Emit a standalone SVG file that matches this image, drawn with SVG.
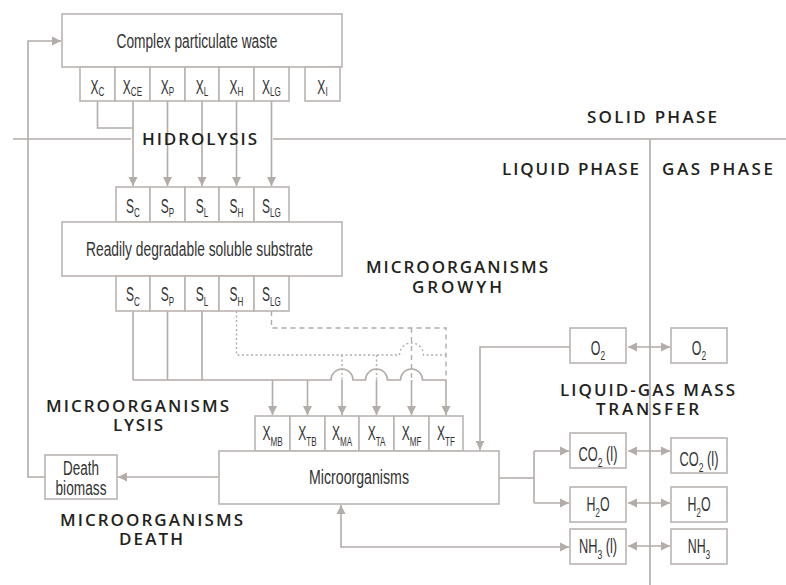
<svg xmlns="http://www.w3.org/2000/svg" width="786" height="585" viewBox="0 0 786 585">
<style>
.bx{fill:#fff;stroke:#bbb5b1;stroke-width:1.6}
.ln{fill:none;stroke:#b3aca8;stroke-width:1.6}
.dot{fill:none;stroke:#b3aca8;stroke-width:1.4;stroke-dasharray:2 2.5}
.dsh{fill:none;stroke:#b3aca8;stroke-width:1.4;stroke-dasharray:5 4}
.t{font-family:"Liberation Sans","Arial",sans-serif;font-size:20px;fill:#333;text-anchor:middle}
.s{font-size:13.5px}
.lb{font-family:"Open Sans","Liberation Sans",sans-serif;font-weight:600;font-size:17px;fill:#231f20;text-anchor:middle}
</style>
<defs>
<marker id="ah" markerUnits="userSpaceOnUse" markerWidth="10" markerHeight="10" refX="9" refY="4.5" orient="auto-start-reverse" viewBox="0 0 10 9">
<path d="M0,0 L9,4.5 L0,9 z" fill="#b3aca8"/>
</marker>
</defs>
<rect width="786" height="585" fill="#fff"/>

<g id="phase-lines">
<path class="ln" d="M13,139 H131 M273,139 H786 M650,139 V585"/>
</g>

<g id="connectors">
<path class="ln" d="M97.5,101 V128 H133"/>
<path class="ln" d="M133,101 V186" marker-end="url(#ah)"/>
<path class="ln" d="M167.5,101 V186" marker-end="url(#ah)"/>
<path class="ln" d="M202,101 V186" marker-end="url(#ah)"/>
<path class="ln" d="M236.5,101 V186" marker-end="url(#ah)"/>
<path class="ln" d="M271.5,101 V186" marker-end="url(#ah)"/>
<path class="ln" d="M133,311 V380 M167.5,311 V380 M202,311 V380"/>
<path class="ln" d="M133,380 H331 A11,11 0 0 1 353,380 H365.5 A11,11 0 0 1 387.5,380 H400.5 A11,11 0 0 1 422.5,380 H446"/>
<path class="dot" d="M236.5,311 V355 H399.5 A12,12 0 0 1 423.5,355 H446"/>
<path class="dot" d="M342,355 V380 M376.5,355 V380"/>
<path class="dsh" d="M271.5,311 V328 H446 V380 M411.5,328 V380"/>
<path class="ln" d="M272.5,380 V415" marker-end="url(#ah)"/>
<path class="ln" d="M307.5,380 V415" marker-end="url(#ah)"/>
<path class="ln" d="M342,380 V415" marker-end="url(#ah)"/>
<path class="ln" d="M376.5,380 V415" marker-end="url(#ah)"/>
<path class="ln" d="M411.5,380 V415" marker-end="url(#ah)"/>
<path class="ln" d="M446,380 V415" marker-end="url(#ah)"/>
<path class="ln" d="M570,347 H480 V450" marker-end="url(#ah)"/>
<path class="ln" d="M628,347 H670" marker-start="url(#ah)" marker-end="url(#ah)"/>
<path class="ln" d="M499,478 H534 M534,451 V503"/>
<path class="ln" d="M534,451 H569" marker-end="url(#ah)"/>
<path class="ln" d="M534,503 H569" marker-end="url(#ah)"/>
<path class="ln" d="M628,451 H670" marker-start="url(#ah)" marker-end="url(#ah)"/>
<path class="ln" d="M628,503 H670" marker-start="url(#ah)" marker-end="url(#ah)"/>
<path class="ln" d="M628,546 H670" marker-start="url(#ah)" marker-end="url(#ah)"/>
<path class="ln" d="M341,505 V547 H569" marker-start="url(#ah)" marker-end="url(#ah)"/>
<path class="ln" d="M219,477 H118" marker-end="url(#ah)"/>
<path class="ln" d="M45,477 H28 V41 H61" marker-end="url(#ah)"/>
</g>

<g id="complex-waste">
<rect class="bx" x="62" y="14" width="280" height="53"/>
<text class="t" x="197" y="48" textLength="161" lengthAdjust="spacingAndGlyphs">Complex particulate waste</text>
</g>
<g id="x-particulates">
<rect class="bx" x="80" y="67" width="35" height="34"/>
<rect class="bx" x="115" y="67" width="35" height="34"/>
<rect class="bx" x="150" y="67" width="35" height="34"/>
<rect class="bx" x="185" y="67" width="34" height="34"/>
<rect class="bx" x="219" y="67" width="35" height="34"/>
<rect class="bx" x="254" y="67" width="35" height="34"/>
<rect class="bx" x="305" y="67" width="35" height="34"/>
<text class="t" transform="translate(97.5,94) scale(0.6,1)">X<tspan class="s" dy="2">C</tspan></text>
<text class="t" transform="translate(132.5,94) scale(0.6,1)">X<tspan class="s" dy="2">CE</tspan></text>
<text class="t" transform="translate(167.5,94) scale(0.6,1)">X<tspan class="s" dy="2">P</tspan></text>
<text class="t" transform="translate(202,94) scale(0.6,1)">X<tspan class="s" dy="2">L</tspan></text>
<text class="t" transform="translate(236.5,94) scale(0.6,1)">X<tspan class="s" dy="2">H</tspan></text>
<text class="t" transform="translate(271.5,94) scale(0.6,1)">X<tspan class="s" dy="2">LG</tspan></text>
<text class="t" transform="translate(322.5,94) scale(0.6,1)">X<tspan class="s" dy="2">I</tspan></text>
</g>

<g id="s-top">
<rect class="bx" x="116" y="187" width="34" height="35"/>
<rect class="bx" x="150" y="187" width="35" height="35"/>
<rect class="bx" x="185" y="187" width="34" height="35"/>
<rect class="bx" x="219" y="187" width="35" height="35"/>
<rect class="bx" x="254" y="187" width="35" height="35"/>
<text class="t" transform="translate(133,213) scale(0.6,1)">S<tspan class="s" dy="4">C</tspan></text>
<text class="t" transform="translate(167.5,213) scale(0.6,1)">S<tspan class="s" dy="4">P</tspan></text>
<text class="t" transform="translate(202,213) scale(0.6,1)">S<tspan class="s" dy="4">L</tspan></text>
<text class="t" transform="translate(236.5,213) scale(0.6,1)">S<tspan class="s" dy="4">H</tspan></text>
<text class="t" transform="translate(271.5,213) scale(0.6,1)">S<tspan class="s" dy="4">LG</tspan></text>
</g>
<g id="soluble-substrate">
<rect class="bx" x="62" y="222" width="280" height="54"/>
<text class="t" x="199.5" y="256" textLength="227" lengthAdjust="spacingAndGlyphs">Readily degradable soluble substrate</text>
</g>
<g id="s-bottom">
<rect class="bx" x="116" y="276" width="34" height="35"/>
<rect class="bx" x="150" y="276" width="35" height="35"/>
<rect class="bx" x="185" y="276" width="34" height="35"/>
<rect class="bx" x="219" y="276" width="35" height="35"/>
<rect class="bx" x="254" y="276" width="35" height="35"/>
<text class="t" transform="translate(133,301) scale(0.6,1)">S<tspan class="s" dy="5">C</tspan></text>
<text class="t" transform="translate(167.5,301) scale(0.6,1)">S<tspan class="s" dy="5">P</tspan></text>
<text class="t" transform="translate(202,301) scale(0.6,1)">S<tspan class="s" dy="5">L</tspan></text>
<text class="t" transform="translate(236.5,301) scale(0.6,1)">S<tspan class="s" dy="5">H</tspan></text>
<text class="t" transform="translate(271.5,301) scale(0.6,1)">S<tspan class="s" dy="5">LG</tspan></text>
</g>

<g id="x-biomass">
<rect class="bx" x="255" y="416" width="35" height="35"/>
<rect class="bx" x="290" y="416" width="35" height="35"/>
<rect class="bx" x="325" y="416" width="34" height="35"/>
<rect class="bx" x="359" y="416" width="35" height="35"/>
<rect class="bx" x="394" y="416" width="35" height="35"/>
<rect class="bx" x="429" y="416" width="34" height="35"/>
<text class="t" transform="translate(272.5,440) scale(0.6,1)">X<tspan class="s" dy="6">MB</tspan></text>
<text class="t" transform="translate(307.5,440) scale(0.6,1)">X<tspan class="s" dy="6">TB</tspan></text>
<text class="t" transform="translate(342,440) scale(0.6,1)">X<tspan class="s" dy="6">MA</tspan></text>
<text class="t" transform="translate(376.5,440) scale(0.6,1)">X<tspan class="s" dy="6">TA</tspan></text>
<text class="t" transform="translate(411.5,440) scale(0.6,1)">X<tspan class="s" dy="6">MF</tspan></text>
<text class="t" transform="translate(446,440) scale(0.6,1)">X<tspan class="s" dy="6">TF</tspan></text>
</g>
<g id="microorganisms">
<rect class="bx" x="219" y="451" width="280" height="53"/>
<text class="t" x="359" y="484" textLength="100" lengthAdjust="spacingAndGlyphs">Microorganisms</text>
</g>
<g id="death-biomass">
<rect class="bx" x="45" y="455" width="72" height="44"/>
<text class="t" x="81" y="475" textLength="36" lengthAdjust="spacingAndGlyphs">Death</text>
<text class="t" x="81" y="495" textLength="51" lengthAdjust="spacingAndGlyphs">biomass</text>
</g>

<g id="o2-liquid"><rect class="bx" x="570" y="328" width="56" height="35"/><text class="t" transform="translate(598,355) scale(0.62,1)">O<tspan class="s" dy="5">2</tspan></text></g>
<g id="o2-gas"><rect class="bx" x="671" y="328" width="56" height="35"/><text class="t" transform="translate(699,355) scale(0.62,1)">O<tspan class="s" dy="5">2</tspan></text></g>
<g id="co2-liquid"><rect class="bx" x="570" y="433" width="56" height="35"/><text class="t" transform="translate(598,461) scale(0.64,1)">CO<tspan class="s" dy="6">2</tspan><tspan dy="-6"> (l)</tspan></text></g>
<g id="co2-gas"><rect class="bx" x="671" y="438" width="56" height="35"/><text class="t" transform="translate(699,466) scale(0.64,1)">CO<tspan class="s" dy="6">2</tspan><tspan dy="-6"> (l)</tspan></text></g>
<g id="h2o-liquid"><rect class="bx" x="570" y="487" width="56" height="35"/><text class="t" transform="translate(598,511) scale(0.62,1)">H<tspan class="s" dy="6">2</tspan><tspan dy="-6">O</tspan></text></g>
<g id="h2o-gas"><rect class="bx" x="671" y="487" width="56" height="35"/><text class="t" transform="translate(699,511) scale(0.62,1)">H<tspan class="s" dy="6">2</tspan><tspan dy="-6">O</tspan></text></g>
<g id="nh3-liquid"><rect class="bx" x="570" y="529" width="56" height="35"/><text class="t" transform="translate(598,553) scale(0.64,1)">NH<tspan class="s" dy="6">3</tspan><tspan dy="-6"> (l)</tspan></text></g>
<g id="nh3-gas"><rect class="bx" x="671" y="529" width="56" height="35"/><text class="t" transform="translate(699,553) scale(0.62,1)">NH<tspan class="s" dy="6">3</tspan></text></g>

<g id="labels">
<text class="lb" x="199.5" y="145" textLength="115" lengthAdjust="spacing">HIDROLYSIS</text>
<text class="lb" x="652" y="123" textLength="130" lengthAdjust="spacing">SOLID PHASE</text>
<text class="lb" x="570.5" y="175" textLength="137" lengthAdjust="spacing">LIQUID PHASE</text>
<text class="lb" x="717.5" y="175" textLength="111" lengthAdjust="spacing">GAS PHASE</text>
<text class="lb" x="457" y="273" textLength="182" lengthAdjust="spacing">MICROORGANISMS</text>
<text class="lb" x="457" y="293" textLength="90" lengthAdjust="spacing">GROWYH</text>
<text class="lb" x="137.5" y="412" textLength="183" lengthAdjust="spacing">MICROORGANISMS</text>
<text class="lb" x="138" y="431" textLength="50" lengthAdjust="spacing">LYSIS</text>
<text class="lb" x="151.5" y="526" textLength="183" lengthAdjust="spacing">MICROORGANISMS</text>
<text class="lb" x="151" y="545" textLength="64" lengthAdjust="spacing">DEATH</text>
<text class="lb" x="647.5" y="396" textLength="175" lengthAdjust="spacing">LIQUID-GAS MASS</text>
<text class="lb" x="647.5" y="415" textLength="103" lengthAdjust="spacing">TRANSFER</text>
</g>
</svg>
